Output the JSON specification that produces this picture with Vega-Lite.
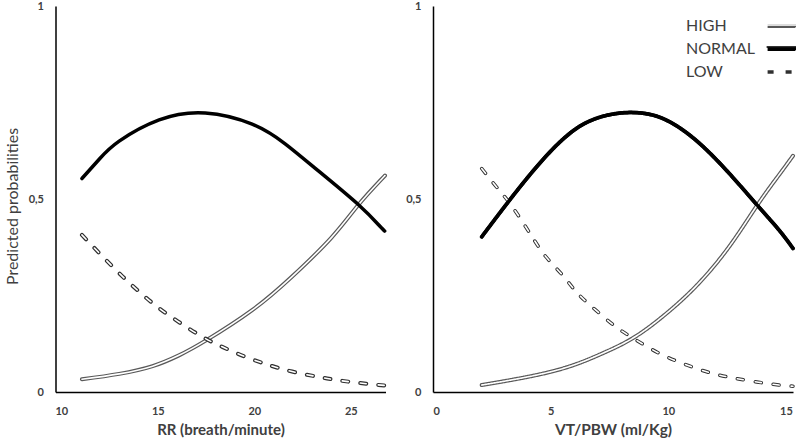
{
  "$schema": "https://vega.github.io/schema/vega-lite/v6.json",
  "padding": {"left": 3.5, "top": 0, "right": 0, "bottom": 0},
  "background": "white",
  "datasets": {
    "rr": [
      {"x": 11.07, "p": 0.033, "s": "HIGH"}, {"x": 13.0, "p": 0.047, "s": "HIGH"}, {"x": 14.73, "p": 0.067, "s": "HIGH"}, {"x": 16.1, "p": 0.095, "s": "HIGH"}, {"x": 17.48, "p": 0.133, "s": "HIGH"}, {"x": 19.89, "p": 0.212, "s": "HIGH"}, {"x": 21.96, "p": 0.299, "s": "HIGH"}, {"x": 24.0, "p": 0.4, "s": "HIGH"}, {"x": 25.4, "p": 0.485, "s": "HIGH"}, {"x": 26.57, "p": 0.55, "s": "HIGH"}, {"x": 26.76, "p": 0.56, "s": "HIGH"},
      {"x": 11.07, "p": 0.553, "s": "NORMAL"}, {"x": 12.0, "p": 0.605, "s": "NORMAL"}, {"x": 13.0, "p": 0.65, "s": "NORMAL"}, {"x": 15.07, "p": 0.705, "s": "NORMAL"}, {"x": 17.46, "p": 0.723, "s": "NORMAL"}, {"x": 19.89, "p": 0.694, "s": "NORMAL"}, {"x": 21.6, "p": 0.643, "s": "NORMAL"}, {"x": 23.34, "p": 0.572, "s": "NORMAL"}, {"x": 25.4, "p": 0.485, "s": "NORMAL"}, {"x": 26.5, "p": 0.43, "s": "NORMAL"}, {"x": 26.76, "p": 0.417, "s": "NORMAL"},
      {"x": 11.07, "p": 0.407, "s": "LOW"}, {"x": 12.14, "p": 0.351, "s": "LOW"}, {"x": 13.18, "p": 0.299, "s": "LOW"}, {"x": 14.12, "p": 0.256, "s": "LOW"}, {"x": 15.07, "p": 0.217, "s": "LOW"}, {"x": 16.19, "p": 0.178, "s": "LOW"}, {"x": 17.31, "p": 0.143, "s": "LOW"}, {"x": 18.34, "p": 0.117, "s": "LOW"}, {"x": 19.55, "p": 0.091, "s": "LOW"}, {"x": 20.75, "p": 0.07, "s": "LOW"}, {"x": 21.96, "p": 0.053, "s": "LOW"}, {"x": 23.34, "p": 0.039, "s": "LOW"}, {"x": 24.54, "p": 0.029, "s": "LOW"}, {"x": 26.09, "p": 0.02, "s": "LOW"}, {"x": 26.76, "p": 0.017, "s": "LOW"}
    ],
    "vt": [
      {"x": 2.07, "p": 0.018, "s": "HIGH"}, {"x": 4.09, "p": 0.04, "s": "HIGH"}, {"x": 5.79, "p": 0.066, "s": "HIGH"}, {"x": 7.2, "p": 0.1, "s": "HIGH"}, {"x": 8.48, "p": 0.139, "s": "HIGH"}, {"x": 9.75, "p": 0.195, "s": "HIGH"}, {"x": 11.16, "p": 0.273, "s": "HIGH"}, {"x": 12.58, "p": 0.376, "s": "HIGH"}, {"x": 13.78, "p": 0.484, "s": "HIGH"}, {"x": 14.7, "p": 0.562, "s": "HIGH"}, {"x": 15.3, "p": 0.612, "s": "HIGH"},
      {"x": 2.07, "p": 0.402, "s": "NORMAL"}, {"x": 3.37, "p": 0.506, "s": "NORMAL"}, {"x": 4.79, "p": 0.61, "s": "NORMAL"}, {"x": 6.2, "p": 0.687, "s": "NORMAL"}, {"x": 7.48, "p": 0.718, "s": "NORMAL"}, {"x": 8.54, "p": 0.724, "s": "NORMAL"}, {"x": 9.75, "p": 0.709, "s": "NORMAL"}, {"x": 11.16, "p": 0.653, "s": "NORMAL"}, {"x": 12.58, "p": 0.567, "s": "NORMAL"}, {"x": 13.78, "p": 0.484, "s": "NORMAL"}, {"x": 14.7, "p": 0.42, "s": "NORMAL"}, {"x": 15.3, "p": 0.372, "s": "NORMAL"},
      {"x": 2.07, "p": 0.579, "s": "LOW"}, {"x": 2.81, "p": 0.523, "s": "LOW"}, {"x": 3.37, "p": 0.48, "s": "LOW"}, {"x": 4.16, "p": 0.407, "s": "LOW"}, {"x": 4.79, "p": 0.351, "s": "LOW"}, {"x": 5.5, "p": 0.303, "s": "LOW"}, {"x": 6.14, "p": 0.256, "s": "LOW"}, {"x": 6.92, "p": 0.212, "s": "LOW"}, {"x": 7.77, "p": 0.169, "s": "LOW"}, {"x": 8.62, "p": 0.135, "s": "LOW"}, {"x": 9.62, "p": 0.1, "s": "LOW"}, {"x": 10.61, "p": 0.074, "s": "LOW"}, {"x": 11.6, "p": 0.053, "s": "LOW"}, {"x": 12.6, "p": 0.038, "s": "LOW"}, {"x": 13.66, "p": 0.027, "s": "LOW"}, {"x": 14.7, "p": 0.018, "s": "LOW"}, {"x": 15.3, "p": 0.015, "s": "LOW"}
    ]
  },
  "spacing": 11.5,
  "resolve": {
    "scale": {"color": "independent", "stroke": "independent", "strokeDash": "independent", "strokeWidth": "independent"},
    "legend": {"color": "independent", "stroke": "independent", "strokeDash": "independent", "strokeWidth": "independent"}
  },
  "hconcat": [
    {
      "width": 330,
      "height": 386,
      "data": {"name": "rr"},
      "encoding": {
        "x": {"field": "x", "type": "quantitative", "scale": {"domain": [9.7, 26.8], "nice": false, "zero": false},
              "axis": {"values": [10, 15, 20, 25], "title": "RR (breath/minute)", "labelPadding": 13, "titlePadding": 6, "titleFontSize": 15, "titleFontWeight": "bold"}},
        "y": {"field": "p", "type": "quantitative", "scale": {"domain": [0, 1], "nice": false},
              "axis": {"values": [0, 0.5, 1], "labelExpr": "replace(format(datum.value, '~g'), '.', ',')", "title": "Predicted probabilities", "labelPadding": 12, "titlePadding": 8, "titleFontSize": 16, "titleFontWeight": "normal", "titleY": 200}}
      },
      "layer": [
        {"transform": [{"filter": "datum.s === 'HIGH'"}], "mark": {"type": "line", "stroke": "#595959", "strokeWidth": 4, "strokeCap": "round", "interpolate": "natural"}},
        {"transform": [{"filter": "datum.s === 'HIGH'"}], "mark": {"type": "line", "stroke": "white", "strokeWidth": 1.6, "strokeCap": "round", "interpolate": "natural"}},
        {"transform": [{"filter": "datum.s === 'LOW'"}], "mark": {"type": "line", "stroke": "#303030", "strokeWidth": 4, "strokeCap": "round", "strokeDash": [6, 12], "interpolate": "natural"}},
        {"transform": [{"filter": "datum.s === 'LOW'"}], "mark": {"type": "line", "stroke": "white", "strokeWidth": 1.6, "strokeCap": "round", "strokeDash": [6, 12], "interpolate": "natural"}},
        {"transform": [{"filter": "datum.s === 'NORMAL'"}], "mark": {"type": "line", "stroke": "black", "strokeWidth": 3.5, "strokeCap": "round", "interpolate": "natural"}}
      ]
    },
    {
      "width": 360,
      "height": 386,
      "data": {"name": "vt"},
      "encoding": {
        "x": {"field": "x", "type": "quantitative", "scale": {"domain": [0, 15.3], "nice": false, "zero": false},
              "axis": {"values": [0, 5, 10, 15], "title": "VT/PBW (ml/Kg)", "labelPadding": 13, "titlePadding": 6, "titleFontSize": 15.5, "titleFontWeight": "bold"}},
        "y": {"field": "p", "type": "quantitative", "scale": {"domain": [0, 1], "nice": false},
              "axis": {"values": [0, 0.5, 1], "labelExpr": "replace(format(datum.value, '~g'), '.', ',')", "title": null, "labelPadding": 12}}
      },
      "layer": [
        {"mark": {"type": "line", "strokeCap": "round", "interpolate": "natural"},
         "encoding": {
           "color": {"field": "s", "type": "nominal", "scale": {"domain": ["HIGH", "NORMAL", "LOW"], "range": ["#595959", "#000000", "#303030"]},
             "legend": {"title": null, "orient": "none", "legendX": 337, "legendY": 7, "symbolType": "M-1.4,0H1.4", "symbolSize": 484,
               "labelFont": "Lato", "labelFontSize": 16, "labelFontWeight": "normal", "labelColor": "#404040", "labelOffset": -110, "rowPadding": 2}},
           "strokeDash": {"field": "s", "type": "nominal", "scale": {"domain": ["HIGH", "NORMAL", "LOW"], "range": [[1, 0], [1, 0], [6, 12]]}, "legend": null},
           "strokeWidth": {"field": "s", "type": "nominal", "scale": {"domain": ["HIGH", "NORMAL", "LOW"], "range": [4, 3.5, 4]}, "legend": null}
         }},
        {"mark": {"type": "line", "strokeCap": "round", "strokeWidth": 1.6, "interpolate": "natural"},
         "encoding": {
           "stroke": {"field": "s", "type": "nominal", "sort": ["HIGH", "NORMAL", "LOW"], "scale": {"range": ["white", "#000000", "white"]},
             "legend": {"title": null, "orient": "none", "legendX": 337, "legendY": 7, "symbolType": "M-1.4,0H1.4", "symbolSize": 484, "symbolStrokeWidth": 1.6,
               "labelFont": "Lato", "labelFontSize": 16, "labelExpr": "''", "labelOffset": -110, "rowPadding": 2}},
           "strokeDash": {"field": "s", "type": "nominal", "scale": {"domain": ["HIGH", "NORMAL", "LOW"], "range": [[1, 0], [1, 0], [6, 12]]}, "legend": null}
         }},
        {"transform": [{"filter": "datum.s === 'NORMAL'"}], "mark": {"type": "line", "stroke": "black", "strokeWidth": 3.5, "strokeCap": "round", "interpolate": "natural"}}
      ]
    }
  ],
  "config": {
    "view": {"stroke": null},
    "axis": {"grid": false, "ticks": false, "domainColor": "black", "domainWidth": 1.5, "labelFont": "Lato", "labelFontWeight": "bold", "labelFontSize": 11, "labelColor": "#404040", "titleFont": "Lato", "titleColor": "#404040"}
  }
}
